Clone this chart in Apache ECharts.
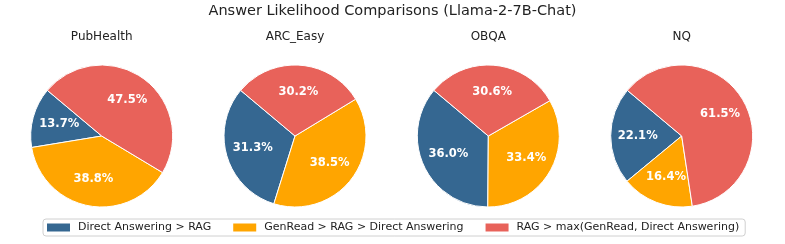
<!DOCTYPE html>
<html>
<head>
<meta charset="utf-8">
<script src="https://cdn.jsdelivr.net/npm/echarts@6/dist/echarts.min.js"></script>
<style>
html,body{margin:0;padding:0;background:#fff;}
#chart{width:785px;height:244px;}
</style>
</head>
<body>
<div id="chart"></div>
<script>
// ---- data ----
const mainTitle = 'Answer Likelihood Comparisons (Llama-2-7B-Chat)';
const datasets = ['PubHealth', 'ARC_Easy', 'OBQA', 'NQ'];
const categories = ['Direct Answering > RAG', 'GenRead > RAG > Direct Answering', 'RAG > max(GenRead, Direct Answering)'];
const directValues  = [13.7, 31.3, 36.0, 22.1];
const genreadValues = [38.8, 38.5, 33.4, 16.4];
const ragValues     = [47.5, 30.2, 30.6, 61.5];
const colors = ['#356791', '#FFA500', '#E8625A'];

// ---- layout ----
const centersX = [101.7, 295, 488.3, 681.7];
const centerY = 136;
const R = 71;
const labelR = 41; // label radial distance
const font = 'DejaVu Sans';

const chart = echarts.init(document.getElementById('chart'), null, {renderer: 'canvas'});

const titles = [{
  text: mainTitle, left: 392.5, top: 4, textAlign: 'center', padding: 0,
  textStyle: {fontFamily: font, fontSize: 14.5, fontWeight: 'normal', color: '#222'}
}];
const series = [];
const overlays = [];
datasets.forEach((name, i) => {
  titles.push({
    text: name, left: centersX[i], top: 31, textAlign: 'center', padding: 0,
    textStyle: {fontFamily: font, fontSize: 12, fontWeight: 'normal', color: '#222'}
  });
  const data = categories.map((c, k) => ({
    name: c,
    value: [directValues, genreadValues, ragValues][k][i]
  }));
  series.push({
    type: 'pie', name: name,
    center: [centersX[i], centerY], radius: [0, R],
    startAngle: 140, clockwise: false,
    avoidLabelOverlap: false,
    label: {show: false}, labelLine: {show: false},
    itemStyle: {borderColor: '#fff', borderWidth: 1},
    emphasis: {disabled: true},
    silent: true,
    animation: false,
    data: data
  });
  overlays.push({
    type: 'pie', name: name + '_labels',
    center: [centersX[i], centerY], radius: [0, labelR * 2],
    startAngle: 140, clockwise: false,
    avoidLabelOverlap: false,
    color: ['rgba(0,0,0,0)', 'rgba(0,0,0,0)', 'rgba(0,0,0,0)'],
    itemStyle: {color: 'rgba(0,0,0,0)', borderWidth: 0},
    label: {
      show: true, position: 'inside',
      formatter: p => p.value.toFixed(1) + '%',
      fontFamily: font, fontSize: 11.5, fontWeight: 'bold', color: '#fff'
    },
    labelLine: {show: false},
    emphasis: {disabled: true},
    silent: true,
    animation: false,
    data: data
  });
});

chart.setOption({
  backgroundColor: '#fff',
  color: colors,
  animation: false,
  title: titles,
  legend: {
    data: categories,
    left: 43, top: 219,
    orient: 'horizontal',
    icon: 'rect',
    itemWidth: 23, itemHeight: 8,
    itemGap: 22,
    padding: [3, 6, 3, 4],
    borderColor: '#d0d0d0', borderWidth: 1, borderRadius: 3,
    itemStyle: {borderWidth: 0},
    textStyle: {fontFamily: font, fontSize: 11, color: '#222', padding: [0, 0, 0, 3]},
    selectedMode: false
  },
  series: series.concat(overlays)
});
</script>
</body>
</html>
